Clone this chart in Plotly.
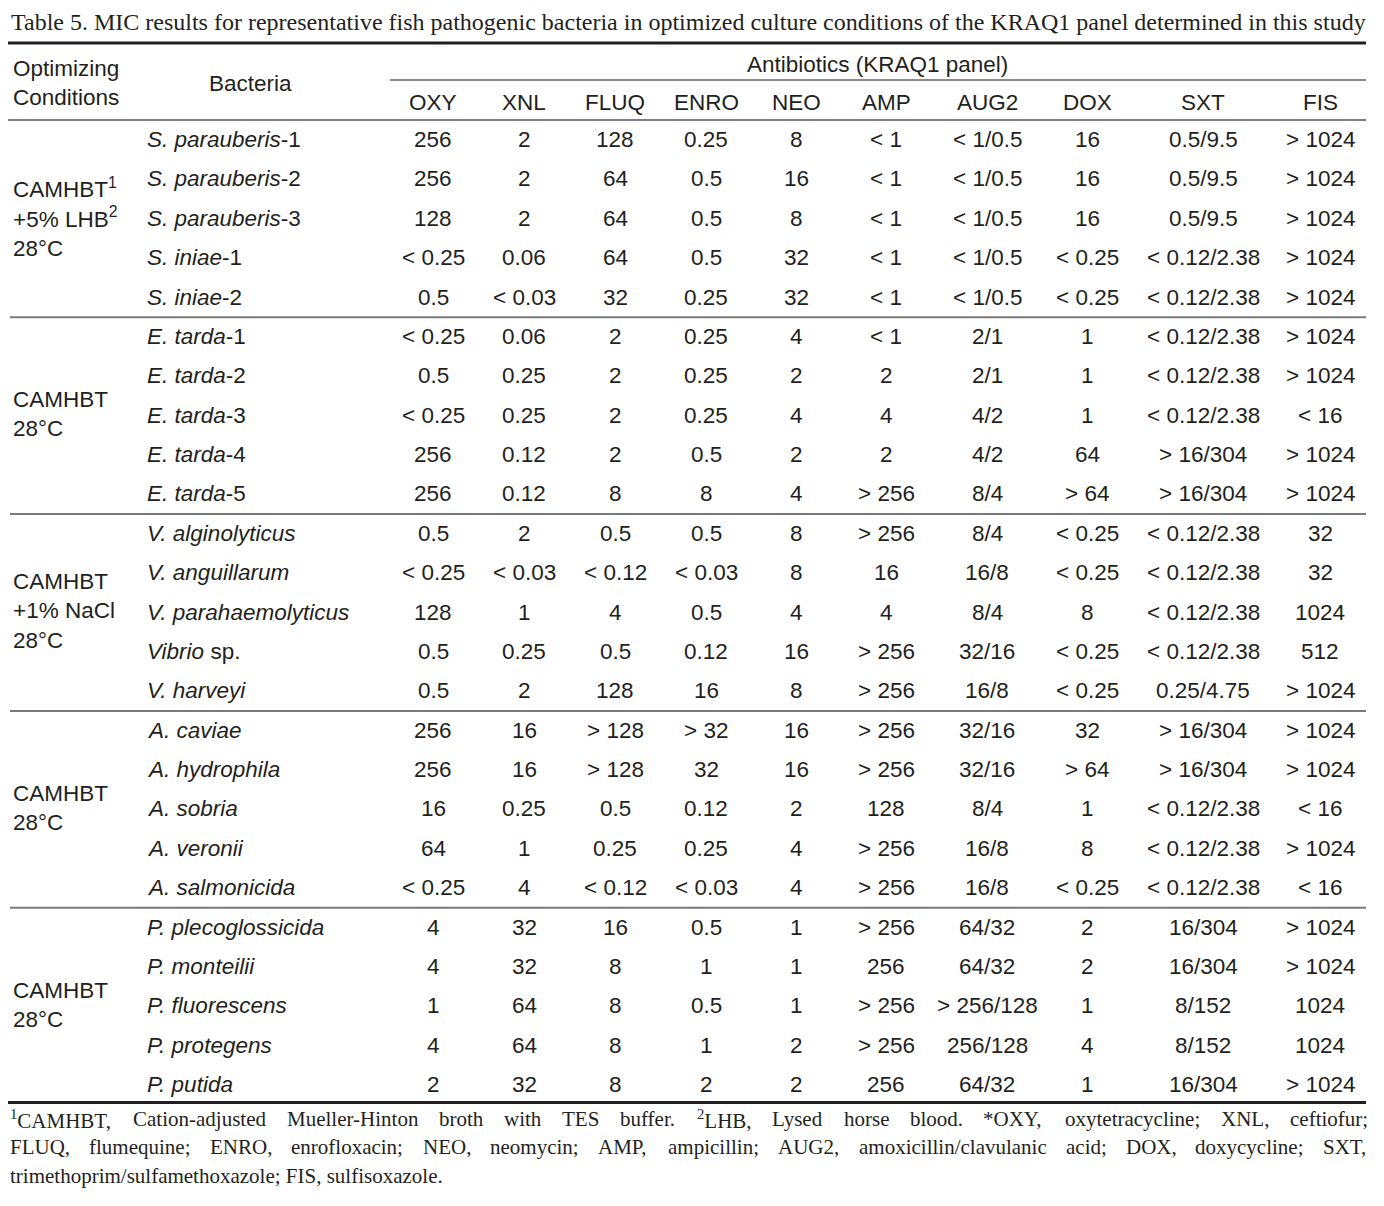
import re
import plotly.graph_objects as go

# ---------------- data ----------------
title = ("Table 5. MIC results for representative fish pathogenic bacteria in optimized "
         "culture conditions of the KRAQ1 panel determined in this study")

antibiotics = ["OXY", "XNL", "FLUQ", "ENRO", "NEO", "AMP", "AUG2", "DOX", "SXT", "FIS"]

conditions = [
    "CAMHBT<sup>1</sup><br>+5% LHB<sup>2</sup><br>28°C",
    "CAMHBT<br>28°C",
    "CAMHBT<br>+1% NaCl<br>28°C",
    "CAMHBT<br>28°C",
    "CAMHBT<br>28°C",
]
group_sizes = [5, 5, 5, 5, 5]

bacteria = [
    "<i>S. parauberis</i>-1", "<i>S. parauberis</i>-2", "<i>S. parauberis</i>-3",
    "<i>S. iniae</i>-1", "<i>S. iniae</i>-2",
    "<i>E. tarda</i>-1", "<i>E. tarda</i>-2", "<i>E. tarda</i>-3", "<i>E. tarda</i>-4", "<i>E. tarda</i>-5",
    "<i>V. alginolyticus</i>", "<i>V. anguillarum</i>", "<i>V. parahaemolyticus</i>",
    "<i>Vibrio</i> sp.", "<i>V. harveyi</i>",
    "<i>A. caviae</i>", "<i>A. hydrophila</i>", "<i>A. sobria</i>", "<i>A. veronii</i>",
    "<i>A. salmonicida</i>",
    "<i>P. plecoglossicida</i>", "<i>P. monteilii</i>", "<i>P. fluorescens</i>",
    "<i>P. protegens</i>", "<i>P. putida</i>",
]

OXY = ["256", "256", "128", "< 0.25", "0.5",
       "< 0.25", "0.5", "< 0.25", "256", "256",
       "0.5", "< 0.25", "128", "0.5", "0.5",
       "256", "256", "16", "64", "< 0.25",
       "4", "4", "1", "4", "2"]
XNL = ["2", "2", "2", "0.06", "< 0.03",
       "0.06", "0.25", "0.25", "0.12", "0.12",
       "2", "< 0.03", "1", "0.25", "2",
       "16", "16", "0.25", "1", "4",
       "32", "32", "64", "64", "32"]
FLUQ = ["128", "64", "64", "64", "32",
        "2", "2", "2", "2", "8",
        "0.5", "< 0.12", "4", "0.5", "128",
        "> 128", "> 128", "0.5", "0.25", "< 0.12",
        "16", "8", "8", "8", "8"]
ENRO = ["0.25", "0.5", "0.5", "0.5", "0.25",
        "0.25", "0.25", "0.25", "0.5", "8",
        "0.5", "< 0.03", "0.5", "0.12", "16",
        "> 32", "32", "0.12", "0.25", "< 0.03",
        "0.5", "1", "0.5", "1", "2"]
NEO = ["8", "16", "8", "32", "32",
       "4", "2", "4", "2", "4",
       "8", "8", "4", "16", "8",
       "16", "16", "2", "4", "4",
       "1", "1", "1", "2", "2"]
AMP = ["< 1", "< 1", "< 1", "< 1", "< 1",
       "< 1", "2", "4", "2", "> 256",
       "> 256", "16", "4", "> 256", "> 256",
       "> 256", "> 256", "128", "> 256", "> 256",
       "> 256", "256", "> 256", "> 256", "256"]
AUG2 = ["< 1/0.5", "< 1/0.5", "< 1/0.5", "< 1/0.5", "< 1/0.5",
        "2/1", "2/1", "4/2", "4/2", "8/4",
        "8/4", "16/8", "8/4", "32/16", "16/8",
        "32/16", "32/16", "8/4", "16/8", "16/8",
        "64/32", "64/32", "> 256/128", "256/128", "64/32"]
DOX = ["16", "16", "16", "< 0.25", "< 0.25",
       "1", "1", "1", "64", "> 64",
       "< 0.25", "< 0.25", "8", "< 0.25", "< 0.25",
       "32", "> 64", "1", "8", "< 0.25",
       "2", "2", "1", "4", "1"]
SXT = ["0.5/9.5", "0.5/9.5", "0.5/9.5", "< 0.12/2.38", "< 0.12/2.38",
       "< 0.12/2.38", "< 0.12/2.38", "< 0.12/2.38", "> 16/304", "> 16/304",
       "< 0.12/2.38", "< 0.12/2.38", "< 0.12/2.38", "< 0.12/2.38", "0.25/4.75",
       "> 16/304", "> 16/304", "< 0.12/2.38", "< 0.12/2.38", "< 0.12/2.38",
       "16/304", "16/304", "8/152", "8/152", "16/304"]
FIS = ["> 1024", "> 1024", "> 1024", "> 1024", "> 1024",
       "> 1024", "> 1024", "< 16", "> 1024", "> 1024",
       "32", "32", "1024", "512", "> 1024",
       "> 1024", "> 1024", "< 16", "> 1024", "< 16",
       "> 1024", "> 1024", "1024", "1024", "> 1024"]

footnotes = [
    "<sup>1</sup>CAMHBT, Cation-adjusted Mueller-Hinton broth with TES buffer. "
    "<sup>2</sup>LHB, Lysed horse blood. *OXY, oxytetracycline; XNL, ceftiofur;",
    "FLUQ, flumequine; ENRO, enrofloxacin; NEO, neomycin; AMP, ampicillin; AUG2, "
    "amoxicillin/clavulanic acid; DOX, doxycycline; SXT,",
    "trimethoprim/sulfamethoxazole; FIS, sulfisoxazole.",
]
footnote_justified = [True, True, False]

# ---------------- layout / style ----------------
PAGE_OFF = 8                      # browser body margin
W, H = 1384 - 2 * PAGE_OFF, 1206 - 2 * PAGE_OFF
SANS = "Liberation Sans, Arial, sans-serif"
SERIF = "Liberation Serif, Times New Roman, serif"
FS = 22.5
FOOT_FS = 21
TXT = "#231f20"

col_x = [433, 524, 615, 706, 796, 886, 987, 1087, 1203, 1320]
bact_x = 145
cond_x = 11
x_left, x_right = 8, 1366
row0, row_h = 139.5, 39.375

values = [OXY, XNL, FLUQ, ENRO, NEO, AMP, AUG2, DOX, SXT, FIS]

# approximate Times metrics (per 1000 em) for justified footnotes
_tw = {}
for ch, w in zip("abcdefghijklmnopqrstuvwxyz",
                 [444, 500, 444, 500, 444, 333, 500, 500, 278, 278, 500, 278, 778,
                  500, 500, 500, 500, 333, 389, 278, 500, 500, 722, 500, 500, 444]):
    _tw[ch] = w
for ch, w in zip("ABCDEFGHIJKLMNOPQRSTUVWXYZ",
                 [722, 667, 667, 722, 611, 556, 722, 722, 333, 389, 722, 611, 889,
                  722, 722, 556, 722, 667, 556, 611, 722, 722, 944, 722, 722, 611]):
    _tw[ch] = w
_tw.update({d: 500 for d in "0123456789"})
_tw.update({" ": 250, ",": 250, ".": 250, ";": 278, ":": 278, "-": 333, "/": 278,
            "*": 500, "(": 333, ")": 333})


def word_width(word, size):
    total = 0.0
    for part in re.split(r"(<sup>.*?</sup>)", word):
        if part.startswith("<sup>"):
            inner = part[5:-6]
            total += sum(_tw.get(c, 500) for c in inner) * 0.7
        else:
            total += sum(_tw.get(c, 500) for c in part)
    return total * size / 1000.0


fig = go.Figure()
fig.add_trace(go.Scatter(x=[PAGE_OFF, PAGE_OFF + W], y=[PAGE_OFF, PAGE_OFF + H],
                         mode="markers", marker=dict(opacity=0),
                         hoverinfo="skip", showlegend=False))

ann = []
shapes = []


def A(x, y, text, xanchor="center", font=SANS, size=FS, align="left"):
    ann.append(dict(x=x, y=y, xref="x", yref="y", text=text, showarrow=False,
                    xanchor=xanchor, yanchor="middle", align=align,
                    font=dict(family=font, size=size, color=TXT)))


def hline(y, x0, x1, width, color):
    shapes.append(dict(type="line", xref="x", yref="y", x0=x0, x1=x1, y0=y, y1=y,
                       line=dict(color=color, width=width)))


# title
A(9, 22, title, xanchor="left", font=SERIF, size=24)
hline(43, x_left, x_right, 3, "#231f20")

# header
A(cond_x, 83, "Optimizing<br>Conditions", xanchor="left")
A(250, 83, "Bacteria")
A(877, 64, "Antibiotics (KRAQ1 panel)")
hline(80, 390, x_right, 2, "#8c8c8c")
for cx, ab in zip(col_x, antibiotics):
    A(cx, 102, ab)
hline(120, x_left, x_right, 1.5, "#555555")

# body
row_y = [row0 + i * row_h for i in range(len(bacteria))]
for i, b in enumerate(bacteria):
    A(bact_x, row_y[i], b, xanchor="left")
    for cx, col in zip(col_x, values):
        A(cx, row_y[i], col[i])

start = 0
for g, (cond, n) in enumerate(zip(conditions, group_sizes)):
    mid = (row_y[start] + row_y[start + n - 1]) / 2
    A(cond_x, mid - 1, cond, xanchor="left")
    start += n
    if start < len(bacteria):
        hline((row_y[start - 1] + row_y[start]) / 2 + 0.5, 10, x_right, 2, "#7a7a7a")

hline(row_y[-1] + 18, x_left, x_right, 3, "#231f20")

# footnotes (lines 1-2 justified like the source)
foot_y = [1119, 1147, 1176]
fx0, fx1 = 8, 1366
for fy, ft, just in zip(foot_y, footnotes, footnote_justified):
    if not just:
        A(fx0, fy, ft, xanchor="left", font=SERIF, size=FOOT_FS)
        continue
    words = ft.split(" ")
    widths = [word_width(w, FOOT_FS) for w in words]
    gap = (fx1 - fx0 - sum(widths)) / (len(words) - 1)
    x = fx0
    for w, ww in zip(words, widths):
        A(x, fy, w, xanchor="left", font=SERIF, size=FOOT_FS)
        x += ww + gap

fig.update_layout(
    width=W, height=H, margin=dict(l=0, r=0, t=0, b=0),
    paper_bgcolor="white", plot_bgcolor="white",
    xaxis=dict(range=[PAGE_OFF, PAGE_OFF + W], visible=False, fixedrange=True),
    yaxis=dict(range=[PAGE_OFF + H, PAGE_OFF], visible=False, fixedrange=True),
    annotations=ann, shapes=shapes, showlegend=False,
)
fig.write_html("out.html")
